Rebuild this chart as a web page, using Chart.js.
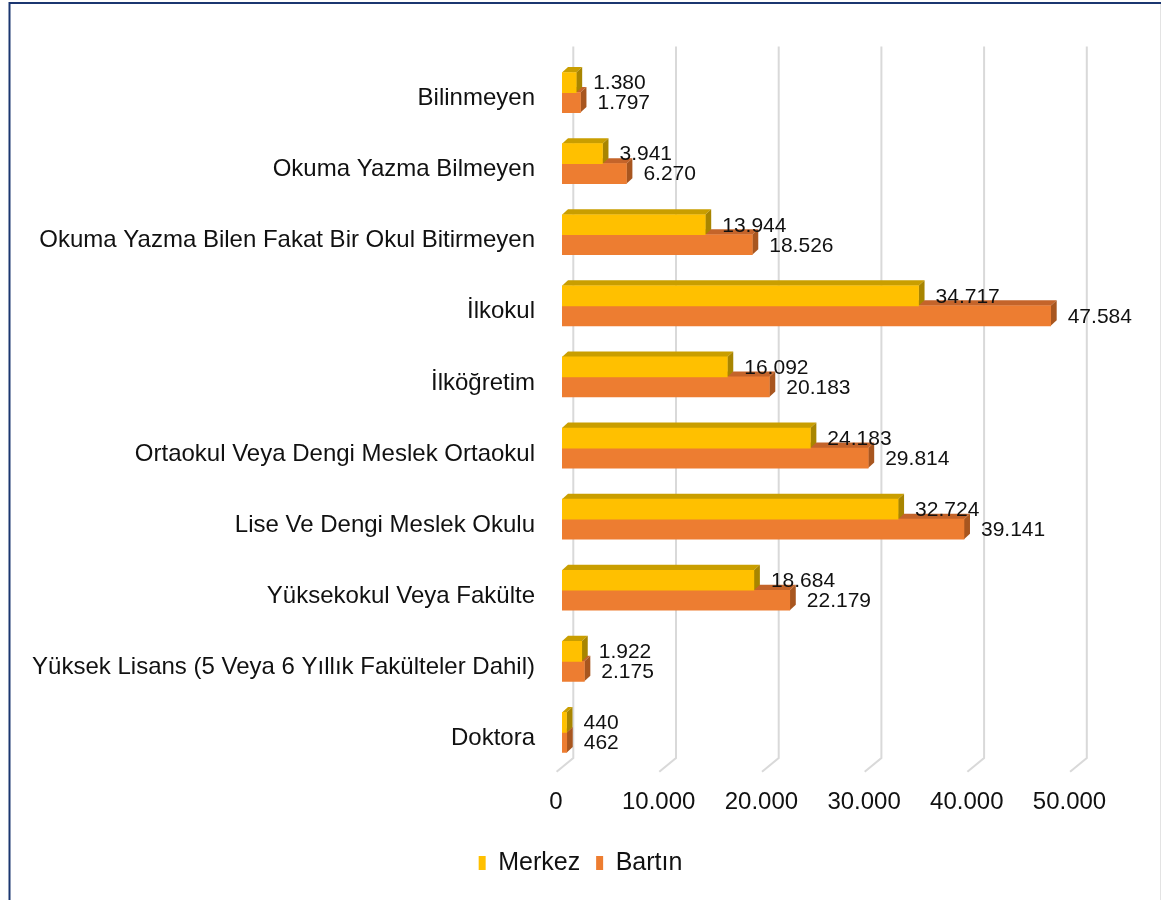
<!DOCTYPE html>
<html><head><meta charset="utf-8">
<style>html,body{margin:0;padding:0;background:#fff}#wrap{width:1161px;height:900px;position:relative}canvas{display:block}</style>
<script src="https://cdn.jsdelivr.net/npm/chart.js@4"></script>
</head><body><div id="wrap"><canvas id="c" width="1161" height="900"></canvas></div>
<script>
// ---- data ----
const categories = [
  'Bilinmeyen',
  'Okuma Yazma Bilmeyen',
  'Okuma Yazma Bilen Fakat Bir Okul Bitirmeyen',
  'İlkokul',
  'İlköğretim',
  'Ortaokul Veya Dengi Meslek Ortaokul',
  'Lise Ve Dengi Meslek Okulu',
  'Yüksekokul Veya Fakülte',
  'Yüksek Lisans (5 Veya 6 Yıllık Fakülteler Dahil)',
  'Doktora'
];
const merkez = [1380, 3941, 13944, 34717, 16092, 24183, 32724, 18684, 1922, 440];
const bartin = [1797, 6270, 18526, 47584, 20183, 29814, 39141, 22179, 2175, 462];
const seriesNames = ['Merkez', 'Bartın'];
const xTicks = [0, 10000, 20000, 30000, 40000, 50000];

// ---- styling ----
const FONT = "'Liberation Sans', Arial, sans-serif";
const TXT = '#111111';
const colors = [
  {front: '#FFC000', top: '#C99E00', side: '#A88500'},
  {front: '#ED7D31', top: '#C4642A', side: '#A8561F'}
];
const DX = 6, DY = 5.5;

const fmt = v => String(Math.round(v)).replace(/\B(?=(\d{3})+(?!\d))/g, '.');

const deco = {
  id: 'deco',
  beforeDraw(chart) {
    const ctx = chart.ctx;
    ctx.save();
    ctx.fillStyle = '#fff';
    ctx.fillRect(0, 0, chart.width, chart.height);
    ctx.strokeStyle = '#E3E3E3'; ctx.lineWidth = 1;
    ctx.beginPath(); ctx.moveTo(1160.5, 4); ctx.lineTo(1160.5, 900); ctx.stroke();
    ctx.strokeStyle = '#1B3670'; ctx.lineWidth = 2;
    ctx.beginPath(); ctx.moveTo(1161, 3); ctx.lineTo(9.5, 3); ctx.lineTo(9.5, 900); ctx.stroke();
    ctx.restore();
  },
  beforeDatasetsDraw(chart) {
    const ctx = chart.ctx, xs = chart.scales.x, ca = chart.chartArea;
    ctx.save();
    ctx.strokeStyle = '#D9D9D9'; ctx.lineWidth = 2;
    xs.ticks.forEach(t => {
      const px = xs.getPixelForValue(t.value);
      ctx.beginPath();
      ctx.moveTo(px + 11.3, ca.top - 10.4);
      ctx.lineTo(px + 11.3, ca.bottom - 10);
      ctx.lineTo(px - 5.4, ca.bottom + 3.7);
      ctx.stroke();
    });
    for (let d = chart.data.datasets.length - 1; d >= 0; d--) {
      const meta = chart.getDatasetMeta(d);
      const c = colors[d];
      meta.data.forEach(el => {
        const p = el.getProps(['x', 'y', 'base', 'height'], true);
        const l = Math.min(p.x, p.base), r = Math.max(p.x, p.base);
        const t = p.y - p.height / 2, b = p.y + p.height / 2;
        ctx.fillStyle = c.top;
        ctx.beginPath();
        ctx.moveTo(l, t); ctx.lineTo(l + DX, t - DY); ctx.lineTo(r + DX, t - DY); ctx.lineTo(r, t);
        ctx.closePath(); ctx.fill();
        ctx.fillStyle = c.side;
        ctx.beginPath();
        ctx.moveTo(r, t); ctx.lineTo(r + DX, t - DY); ctx.lineTo(r + DX, b - DY); ctx.lineTo(r, b);
        ctx.closePath(); ctx.fill();
      });
    }
    ctx.restore();
  },
  afterDatasetsDraw(chart) {
    const ctx = chart.ctx;
    ctx.save();
    ctx.font = '21px ' + FONT;
    ctx.fillStyle = TXT;
    ctx.textAlign = 'left';
    ctx.textBaseline = 'middle';
    chart.data.datasets.forEach((ds, d) => {
      const meta = chart.getDatasetMeta(d);
      meta.data.forEach((el, i) => {
        const p = el.getProps(['x', 'y'], true);
        ctx.fillText(fmt(ds.data[i]), p.x + 17, p.y + 1);
      });
    });
    ctx.restore();
  }
};

new Chart(document.getElementById('c'), {
  type: 'bar',
  data: {
    labels: categories,
    datasets: [
      {label: seriesNames[0], data: merkez, backgroundColor: colors[0].front},
      {label: seriesNames[1], data: bartin, backgroundColor: colors[1].front}
    ]
  },
  options: {
    indexAxis: 'y',
    responsive: false,
    animation: false,
    devicePixelRatio: 1,
    barThickness: 20,
    layout: {padding: {top: 57, right: 0, bottom: 14.5, left: 0}},
    scales: {
      x: {
        type: 'linear', min: 0, max: 50000,
        afterBuildTicks(s) { s.ticks = xTicks.map(v => ({value: v})); },
        afterFit(s) { s.height = 66.5; },
        grid: {display: false, drawTicks: false},
        border: {display: false},
        ticks: {callback: v => fmt(v), color: TXT, font: {family: FONT, size: 24}, padding: 20, labelOffset: -6, maxRotation: 0}
      },
      y: {
        type: 'category',
        afterFit(s) { s.width = 562; },
        grid: {display: false, drawTicks: false},
        border: {display: false},
        ticks: {color: TXT, font: {family: FONT, size: 24}, padding: 27, labelOffset: 6, autoSkip: false}
      },
      yRight: {
        type: 'linear', position: 'right', axis: 'y', display: true,
        afterFit(s) { s.width = 85.5; },
        grid: {display: false, drawTicks: false},
        border: {display: false},
        ticks: {display: false}
      }
    },
    plugins: {
      legend: {
        position: 'bottom',
        labels: {boxWidth: 7, boxHeight: 14, padding: 16, color: TXT, font: {family: FONT, size: 25}}
      },
      tooltip: {enabled: false}
    }
  },
  plugins: [deco]
});
</script>
</body></html>
